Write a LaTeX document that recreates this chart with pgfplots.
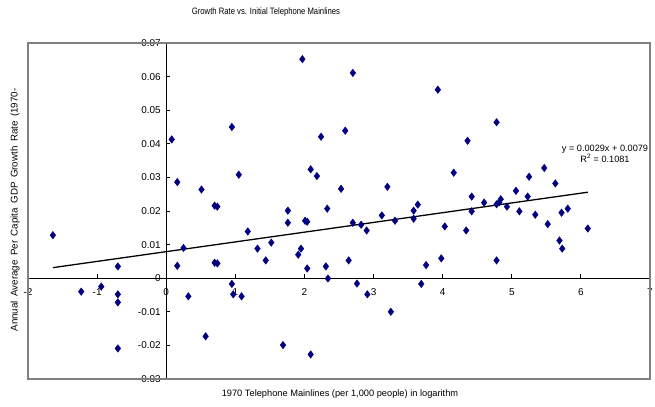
\documentclass[border=0pt]{standalone}
\usepackage{fontspec}
\setmainfont{Liberation Sans}
\usepackage{pgfplots}
\pgfplotsset{compat=1.18}
\definecolor{navymark}{RGB}{0,0,128}
\definecolor{framegray}{RGB}{128,128,128}

% growth rate vs. log of 1970 telephone mainlines
\pgfplotstableread{
x y
-1.64 0.0128
-1.23 -0.0040
-0.94 -0.0025
-0.70 0.0035
-0.70 -0.0048
-0.70 -0.0072
-0.70 -0.0209
0.08 0.0413
0.16 0.0286
0.51 0.0264
0.70 0.0216
0.74 0.0213
0.95 0.0450
1.05 0.0308
1.18 0.0139
0.25 0.0090
0.16 0.0037
0.70 0.0046
0.74 0.0044
1.32 0.0088
1.44 0.0053
1.52 0.0106
0.95 -0.0017
0.97 -0.0048
1.09 -0.0054
0.32 -0.0054
0.57 -0.0173
1.69 -0.0199
1.97 0.0652
2.70 0.0611
2.24 0.0421
2.59 0.0439
2.09 0.0324
2.18 0.0304
2.53 0.0266
3.20 0.0272
1.76 0.0201
1.76 0.0165
2.01 0.0171
2.04 0.0168
2.33 0.0207
2.70 0.0165
2.82 0.0159
2.90 0.0142
3.12 0.0187
3.31 0.0171
1.95 0.0088
1.91 0.0070
2.04 0.0029
2.31 0.0035
2.64 0.0053
2.34 -0.0001
2.76 -0.0016
2.91 -0.0048
3.25 -0.0100
2.09 -0.0227
3.93 0.0561
4.78 0.0464
4.36 0.0409
4.16 0.0314
5.25 0.0302
4.42 0.0243
5.06 0.0260
5.23 0.0243
3.64 0.0219
3.58 0.0201
3.58 0.0177
4.60 0.0225
4.78 0.0220
4.84 0.0235
4.82 0.0226
4.93 0.0213
5.11 0.0199
4.42 0.0199
4.03 0.0154
4.34 0.0142
3.98 0.0059
3.76 0.0039
4.78 0.0053
3.69 -0.0017
5.47 0.0328
5.63 0.0282
5.34 0.0189
5.52 0.0161
5.72 0.0195
5.81 0.0207
5.69 0.0112
5.73 0.0088
6.10 0.0148
}\growthdata

\begin{document}
\begin{tikzpicture}[x=1bp,y=1bp]
\useasboundingbox (-28,-27) rectangle (627,379);
\begin{axis}[
  at={(0,0)}, anchor=south west,
  scale only axis, width=622bp, height=336bp,
  xmin=-2, xmax=7, ymin=-0.03, ymax=0.07,
  axis lines=middle,
  axis line style={black, line width=1.3pt, -},
  hide obscured x ticks=false, hide obscured y ticks=false,
  scaled y ticks=false, scaled x ticks=false,
  xtick={-2,-1,0,1,2,3,4,5,6,7},
  xticklabels={-2,-1,0,1,2,3,4,5,6,7},
  ytick={-0.03,-0.02,-0.01,0,0.01,0.02,0.03,0.04,0.05,0.06,0.07},
  yticklabels={-0.03,-0.02,-0.01,0,0.01,0.02,0.03,0.04,0.05,0.06,0.07},
  tick align=inside,
  major tick length=4bp,
  tick style={black, line width=1pt},
  ticklabel style={font=\fontsize{10}{12}\selectfont},
  xticklabel style={anchor=center, yshift=-14bp},
  yticklabel style={anchor=east, xshift=-2bp},
  clip=false,
]
\draw[framegray, line width=1.8bp] (rel axis cs:0,0) rectangle (rel axis cs:1,1);
\addplot[only marks, mark=diamond*, mark size=3.7bp,
  mark options={fill=navymark, draw=navymark, line width=0.5pt}]
  table[x=x, y=y] {\growthdata};
% least-squares trend line over the observed range
\addplot[black, line width=1.3pt] coordinates {(-1.64,0.003144) (6.10,0.02559)};
\end{axis}
\node[font=\fontsize{9.3}{11}\selectfont] at (238,367)
  {\scalebox{0.83}[1]{Growth Rate vs. Initial Telephone Mainlines}};
\node[font=\fontsize{9.3}{11}\selectfont] at (312,-15)
  {1970 Telephone Mainlines (per 1,000 people) in logarithm};
\node[font=\fontsize{9.8}{11}\selectfont, rotate=90] at (-13,169)
  {\spaceskip=4.5bp plus 1bp Annual Average Per Capita GDP Growth Rate (1970-};
\node[font=\fontsize{9.2}{11}\selectfont, align=center] at (577,225.5)
  {y = 0.0029x + 0.0079\\R\textsuperscript{2} = 0.1081};
\end{tikzpicture}
\end{document}
